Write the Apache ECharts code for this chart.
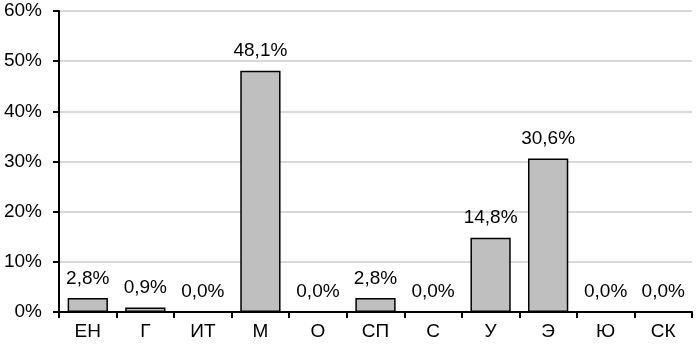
<!DOCTYPE html>
<html><head><meta charset="utf-8">
<script src="https://cdn.jsdelivr.net/npm/echarts@6/dist/echarts.min.js"></script>
<style>html,body{margin:0;padding:0;background:#fff}#c{width:696px;height:344px}</style>
</head><body><div id="c"></div>
<script>
const categories = ['ЕН','Г','ИТ','М','О','СП','С','У','Э','Ю','СК'];
const values = [2.8, 0.9, 0.0, 48.1, 0.0, 2.8, 0.0, 14.8, 30.6, 0.0, 0.0];
const yTicks = [0,10,20,30,40,50,60];
const font = 'Liberation Sans, Arial, sans-serif';
const chart = echarts.init(document.getElementById('c'));
chart.setOption({
  animation:false,
  grid:{left:59,right:4,top:11,bottom:32},
  xAxis:{type:'category',data:categories,
    axisLine:{lineStyle:{color:'#000',width:2}},
    axisTick:{show:true,length:6,lineStyle:{color:'#000',width:2},alignWithLabel:false},
    axisLabel:{color:'#000',fontFamily:font,fontSize:19,margin:10}},
  yAxis:{type:'value',min:yTicks[0],max:yTicks[yTicks.length-1],interval:10,
    axisLine:{show:true,lineStyle:{color:'#000',width:2}},
    axisTick:{show:true,length:6,lineStyle:{color:'#000',width:2}},
    splitLine:{lineStyle:{color:'#d9d9d9',width:2}},
    axisLabel:{color:'#000',fontFamily:font,fontSize:19,margin:17,formatter:v=>v+'%'}},
  series:[{type:'bar',data:values,barCategoryGap:'30%',
    itemStyle:{color:'#bfbfbf',borderColor:'#000',borderWidth:1.5},
    label:{show:true,position:'top',distance:10,color:'#000',fontFamily:font,fontSize:19,
      formatter:p=>p.value.toFixed(1).replace('.',',')+'%'}}]
});
</script></body></html>
